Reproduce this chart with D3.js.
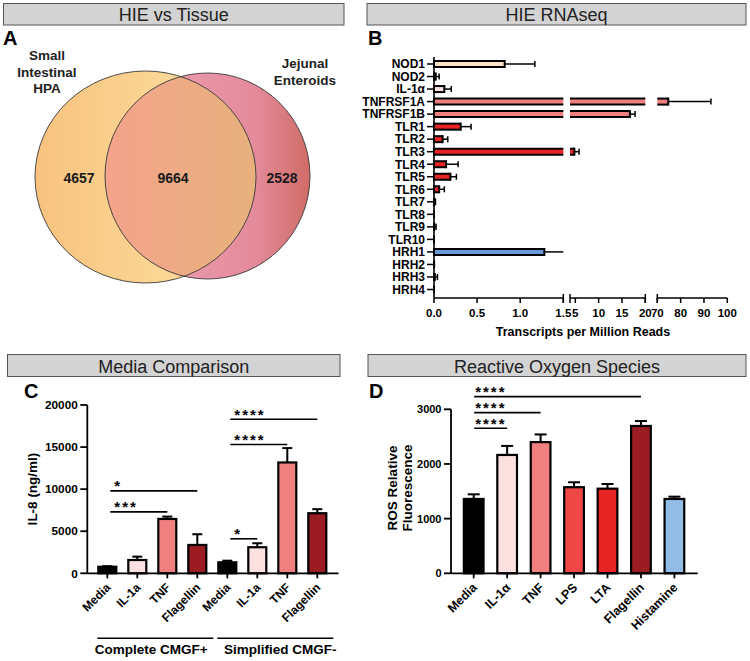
<!DOCTYPE html>
<html><head><meta charset="utf-8">
<script src="https://cdn.jsdelivr.net/npm/d3@7"></script>
<style>
body{margin:0;background:#fff}
svg{display:block}
text{font-family:"Liberation Sans",Arial,Helvetica,sans-serif}
</style>
</head><body>
<svg id="fig" width="750" height="661"></svg>
<script>
// ---------------- DATA ----------------
const panelTitles = ["HIE vs Tissue", "HIE RNAseq", "Media Comparison", "Reactive Oxygen Species"];
const panelLetters = ["A", "B", "C", "D"];

// A: Venn
const vennSetLeft = ["Small", "Intestinal", "HPA"];
const vennSetRight = ["Jejunal", "Enteroids"];
const vennCounts = [4657, 9664, 2528]; // left only, shared, right only

// B: RNAseq (TPM)
const rnaGenes = ["NOD1","NOD2","IL-1α","TNFRSF1A","TNFRSF1B","TLR1","TLR2","TLR3","TLR4","TLR5","TLR6","TLR7","TLR8","TLR9","TLR10","HRH1","HRH2","HRH3","HRH4"];
const rnaMeans = [0.82,0.02,0.12,74.7,16.7,0.31,0.10,4.8,0.14,0.19,0.06,0.005,0,0.004,0,1.28,0,0.01,0];
const rnaErrors = [0.35,0.04,0.08,18.3,1.1,0.12,0.06,1.0,0.14,0.07,0.06,0.012,0,0.02,0,0.3,0.005,0.03,0];
const rnaGroups = ["NOD","NOD","IL1","TNFR","TNFR","TLR","TLR","TLR","TLR","TLR","TLR","TLR","TLR","TLR","TLR","HRH","HRH","HRH","HRH"];
const rnaSegDomains = [[0, 1.5], [3.86, 20], [70, 100]];
const rnaSegTicks = [[0, 0.5, 1.0, 1.5], [5, 10, 15, 20], [70, 80, 90, 100]];
const rnaXTitle = "Transcripts per Million Reads";

// C: IL-8 media comparison
const cCategories = ["Media","IL-1a","TNF","Flagellin","Media","IL-1a","TNF","Flagellin"];
const cMeans = [780, 1580, 6460, 3370, 1310, 3100, 13170, 7140];
const cErrors = [60, 400, 280, 1270, 190, 470, 1710, 480];
const cTreat = ["media","il1","tnf","flag","media","il1","tnf","flag"];
const cYTicks = [0, 5000, 10000, 15000, 20000];
const cYTitle = "IL-8 (ng/ml)";
const cGroupNames = ["Complete CMGF+", "Simplified CMGF-"];
const cGroupSpans = [[0, 3], [4, 7]];
const cSigFrom = [0, 0, 4, 4, 4];
const cSigTo = [3, 2, 5, 6, 7];
const cSigLevel = [9800, 7300, 4100, 15300, 18300];
const cSigText = ["*", "***", "*", "****", "****"];

// D: ROS
const dCategories = ["Media","IL-1α","TNF","LPS","LTA","Flagellin","Histamine"];
const dMeans = [1360, 2165, 2400, 1575, 1548, 2695, 1360];
const dErrors = [85, 165, 140, 90, 86, 90, 42];
const dTreat = ["media","il1","tnf","lps","lta","flag","hist"];
const dYTicks = [0, 1000, 2000, 3000];
const dYTitle = ["ROS Relative", "Fluorescence"];
const dSigFrom = [0, 0, 0];
const dSigTo = [5, 2, 1];
const dSigLevel = [3232, 2939, 2652];
const dSigText = ["****", "****", "****"];

// ---------------- STYLES ----------------
const colors = {
  NOD: "#fde3c6", IL1: "#fde0e0", TNFR: "#f08080", TLR: "#e82424", HRH: "#6b9bd6",
  media: "#000000", il1: "#fde0e0", tnf: "#f08080", flag: "#9c1c23", lps: "#ef4646", lta: "#e82424", hist: "#92bce4"
};

const svg = d3.select("#fig");
const defs = svg.append("defs");

// ---------------- TITLE BOXES & LETTERS ----------------
const titleBoxes = [
  {x: 3.5, y: 3.5, w: 340.5, h: 21.5},
  {x: 367, y: 3.5, w: 379, h: 21.5},
  {x: 7.5, y: 354.5, w: 332.5, h: 22},
  {x: 368, y: 354.5, w: 378, h: 22}
];
titleBoxes.forEach((b, i) => {
  svg.append("rect").attr("x", b.x).attr("y", b.y).attr("width", b.w).attr("height", b.h)
    .attr("fill", "#d3d3d3").attr("stroke", "#555").attr("stroke-width", 1);
  svg.append("text").attr("x", b.x + b.w / 2).attr("y", b.y + b.h - 3.6)
    .attr("text-anchor", "middle").attr("font-size", 18).attr("fill", "#222").text(panelTitles[i]);
});
const letterPos = [[3, 45], [368, 45], [24, 398], [369, 398]];
letterPos.forEach((p, i) => {
  svg.append("text").attr("x", p[0]).attr("y", p[1]).attr("font-size", 20).attr("font-weight", "bold")
    .text(panelLetters[i]);
});

// ---------------- A: VENN ----------------
(function () {
  const L = {cx: 145.5, cy: 177, rx: 110.5, ry: 106};
  const R = {cx: 207.5, cy: 176, rx: 102.5, ry: 103};
  function grad(id, x1, x2, stops) {
    const g = defs.append("linearGradient").attr("id", id).attr("gradientUnits", "userSpaceOnUse")
      .attr("x1", x1).attr("x2", x2).attr("y1", 0).attr("y2", 0);
    stops.forEach(s => g.append("stop").attr("offset", s[0]).attr("stop-color", s[1]));
  }
  grad("gL", L.cx - L.rx, L.cx + L.rx, [[0, "#f8c27e"], [1, "#fee5a6"]]);
  grad("gR", R.cx - R.rx, R.cx + R.rx, [[0, "#f0a5b8"], [0.73, "#e48b9b"], [1, "#d06c66"]]);
  grad("gI", R.cx - R.rx, L.cx + L.rx, [[0, "#f3a38b"], [0.5, "#eeab84"], [1, "#e7b17c"]]);
  defs.append("clipPath").attr("id", "clipR").append("ellipse")
    .attr("cx", R.cx).attr("cy", R.cy).attr("rx", R.rx).attr("ry", R.ry);
  const g = svg.append("g");
  g.append("ellipse").attr("cx", L.cx).attr("cy", L.cy).attr("rx", L.rx).attr("ry", L.ry).attr("fill", "url(#gL)");
  g.append("ellipse").attr("cx", R.cx).attr("cy", R.cy).attr("rx", R.rx).attr("ry", R.ry).attr("fill", "url(#gR)");
  g.append("ellipse").attr("cx", L.cx).attr("cy", L.cy).attr("rx", L.rx).attr("ry", L.ry)
    .attr("fill", "url(#gI)").attr("clip-path", "url(#clipR)");
  [L, R].forEach(e => g.append("ellipse").attr("cx", e.cx).attr("cy", e.cy).attr("rx", e.rx).attr("ry", e.ry)
    .attr("fill", "none").attr("stroke", "#3a3a3a").attr("stroke-width", 0.9));
  const numX = [79, 173, 282];
  vennCounts.forEach((c, i) => g.append("text").attr("x", numX[i]).attr("y", 183.3).attr("text-anchor", "middle")
    .attr("font-size", 14).attr("font-weight", "bold").attr("fill", "#1a1a1a").text(c));
  vennSetLeft.forEach((t, i) => g.append("text").attr("x", 47).attr("y", 60 + i * 16.7).attr("text-anchor", "middle")
    .attr("font-size", 13.5).attr("font-weight", "bold").attr("fill", "#222").text(t));
  vennSetRight.forEach((t, i) => g.append("text").attr("x", 305).attr("y", 68.3 + i * 16.7).attr("text-anchor", "middle")
    .attr("font-size", 13.5).attr("font-weight", "bold").attr("fill", "#222").text(t));
})();

// ---------------- B: RNAseq broken axis ----------------
(function () {
  const g = svg.append("g");
  const segRanges = [[434, 563.3], [570, 645.3], [657.3, 727.3]];
  const segScales = rnaSegDomains.map((d, i) => d3.scaleLinear().domain(d).range(segRanges[i]));
  const y = d3.scalePoint().domain(rnaGenes).range([64, 289.5]);
  const axisY = 298;
  const x0 = segScales[0](0);
  function xOf(v) {
    for (let i = 0; i < segScales.length; i++) {
      const d = rnaSegDomains[i];
      if (v >= d[0] && v <= d[1]) return {x: segScales[i](v), inSeg: true};
    }
    let last = segScales[0];
    for (let i = 0; i < segScales.length; i++) if (rnaSegDomains[i][1] < v) last = segScales[i];
    return {x: last.range()[1], inSeg: false};
  }
  rnaGenes.forEach((gene, gi) => {
    const m = rnaMeans[gi], yc = y(gene), hh = 3;
    const col = colors[rnaGroups[gi]];
    rnaSegDomains.forEach((d, si) => {
      const lo = si === 0 ? 0 : d[0];
      if (m <= lo && !(si === 0)) return;
      const hi = Math.min(m, d[1]);
      if (hi < lo) return;
      const xa = segScales[si](lo), xb = segScales[si](hi);
      g.append("rect").attr("x", xa).attr("y", yc - hh).attr("width", Math.max(0, xb - xa)).attr("height", hh * 2)
        .attr("fill", col);
      if (xb - xa > 0.5) {
        [yc - hh, yc + hh].forEach(yy => g.append("line").attr("x1", xa).attr("x2", xb).attr("y1", yy).attr("y2", yy)
          .attr("stroke", "#000").attr("stroke-width", 2));
      }
      if (si === 0) g.append("line").attr("x1", xa).attr("x2", xa).attr("y1", yc - hh - 1).attr("y2", yc + hh + 1)
        .attr("stroke", "#000").attr("stroke-width", 2);
      if (hi === m && m > 0) g.append("line").attr("x1", xb).attr("x2", xb).attr("y1", yc - hh - 1).attr("y2", yc + hh + 1)
        .attr("stroke", "#000").attr("stroke-width", 2);
    });
    const e = rnaErrors[gi];
    if (e > 0) {
      const xs = xOf(m).x, xe = xOf(m + e);
      g.append("line").attr("x1", xs).attr("x2", xe.x).attr("y1", yc).attr("y2", yc)
        .attr("stroke", "#000").attr("stroke-width", 1.5);
      if (xe.inSeg) g.append("line").attr("x1", xe.x).attr("x2", xe.x).attr("y1", yc - 3).attr("y2", yc + 3)
        .attr("stroke", "#000").attr("stroke-width", 1.5);
    }
  });
  g.append("line").attr("x1", x0).attr("x2", x0).attr("y1", 57).attr("y2", axisY).attr("stroke", "#000").attr("stroke-width", 1.6);
  rnaGenes.forEach(gene => {
    g.append("line").attr("x1", x0 - 7).attr("x2", x0).attr("y1", y(gene)).attr("y2", y(gene)).attr("stroke", "#000").attr("stroke-width", 1.5);
    g.append("text").attr("x", x0 - 9).attr("y", y(gene)).attr("dy", "0.36em").attr("text-anchor", "end")
      .attr("font-size", 12).attr("font-weight", "bold").text(gene);
  });
  segScales.forEach((s, si) => {
    const r = s.range();
    g.append("line").attr("x1", r[0]).attr("x2", r[1]).attr("y1", axisY).attr("y2", axisY).attr("stroke", "#000").attr("stroke-width", 1.6);
    if (si > 0) g.append("line").attr("x1", r[0]).attr("x2", r[0]).attr("y1", axisY - 4).attr("y2", axisY + 5).attr("stroke", "#000").attr("stroke-width", 1.5);
    if (si < segScales.length - 1) g.append("line").attr("x1", r[1]).attr("x2", r[1]).attr("y1", axisY - 4).attr("y2", axisY + 5).attr("stroke", "#000").attr("stroke-width", 1.5);
    const fmt = si === 0 ? d3.format(".1f") : d3.format("d");
    rnaSegTicks[si].forEach(t => {
      g.append("line").attr("x1", s(t)).attr("x2", s(t)).attr("y1", axisY).attr("y2", axisY + 5).attr("stroke", "#000").attr("stroke-width", 1.5);
      g.append("text").attr("x", s(t)).attr("y", axisY + 19).attr("text-anchor", "middle")
        .attr("font-size", 11.5).attr("font-weight", "bold").text(fmt(t));
    });
  });
  g.append("text").attr("x", 583).attr("y", 336).attr("text-anchor", "middle").attr("font-size", 12.5)
    .attr("font-weight", "bold").text(rnaXTitle);
})();

// ---------------- shared bar chart ----------------
function barPanel(cfg) {
  const g = svg.append("g");
  const y = d3.scaleLinear().domain([0, cfg.yMax]).range([cfg.y0, cfg.yTop]);
  const x = d3.scalePoint().domain(d3.range(cfg.cats.length)).range(cfg.xRange);
  cfg.cats.forEach((c, i) => {
    const cx = x(i), top = y(cfg.means[i]), et = y(cfg.means[i] + cfg.errs[i]);
    g.append("line").attr("x1", cx).attr("x2", cx).attr("y1", top).attr("y2", et).attr("stroke", "#000").attr("stroke-width", 2);
    g.append("line").attr("x1", cx - cfg.cap / 2).attr("x2", cx + cfg.cap / 2).attr("y1", et).attr("y2", et).attr("stroke", "#000").attr("stroke-width", 2);
    g.append("rect").attr("x", cx - cfg.bw / 2).attr("y", top).attr("width", cfg.bw).attr("height", cfg.y0 - top)
      .attr("fill", colors[cfg.treat[i]]).attr("stroke", "#000").attr("stroke-width", 2.2);
  });
  g.append("line").attr("x1", cfg.axX).attr("x2", cfg.axX).attr("y1", cfg.yTop).attr("y2", cfg.y0).attr("stroke", "#000").attr("stroke-width", 1.8);
  g.append("line").attr("x1", cfg.axX).attr("x2", cfg.axXEnd).attr("y1", cfg.y0).attr("y2", cfg.y0).attr("stroke", "#000").attr("stroke-width", 1.8);
  cfg.yTicks.forEach(t => {
    g.append("line").attr("x1", cfg.axX - 7).attr("x2", cfg.axX).attr("y1", y(t)).attr("y2", y(t)).attr("stroke", "#000").attr("stroke-width", 1.8);
    g.append("text").attr("x", cfg.axX - 9.5).attr("y", y(t)).attr("dy", "0.36em").attr("text-anchor", "end")
      .attr("font-size", cfg.tickFont).attr("font-weight", "bold").text(t);
  });
  cfg.cats.forEach((c, i) => {
    g.append("line").attr("x1", x(i)).attr("x2", x(i)).attr("y1", cfg.y0).attr("y2", cfg.y0 + 5).attr("stroke", "#000").attr("stroke-width", 1.8);
    g.append("text").attr("transform", `translate(${x(i) + 4},${cfg.y0 + 15}) rotate(-45)`)
      .attr("text-anchor", "end").attr("font-size", cfg.labFont).attr("font-weight", "bold").text(c);
  });
  cfg.sigFrom.forEach((f, k) => {
    const yy = y(cfg.sigLevel[k]), xa = x(f) + cfg.sigDx, xb = x(cfg.sigTo[k]);
    g.append("line").attr("x1", xa).attr("x2", xb).attr("y1", yy).attr("y2", yy).attr("stroke", "#000").attr("stroke-width", 1.6);
    g.append("text").attr("x", xa + cfg.starDx).attr("y", yy + 0.5).attr("font-size", 15).attr("font-weight", "bold")
      .attr("letter-spacing", 2).text(cfg.sigText[k]);
  });
  return {g, x, y};
}

// ---------------- C ----------------
(function () {
  const p = barPanel({
    cats: cCategories, means: cMeans, errs: cErrors, treat: cTreat, yMax: 20000, yTicks: cYTicks,
    y0: 573.3, yTop: 405, xRange: [107.3, 317.3], axX: 87.3, axXEnd: 338.5, bw: 18, cap: 10,
    tickFont: 11.8, labFont: 12, sigFrom: cSigFrom, sigTo: cSigTo, sigLevel: cSigLevel, sigText: cSigText,
    sigDx: 3, starDx: 4
  });
  p.g.append("text").attr("transform", "translate(37,489) rotate(-90)").attr("text-anchor", "middle")
    .attr("font-size", 13.5).attr("font-weight", "bold").text(cYTitle);
  cGroupSpans.forEach((s, i) => {
    const xa = p.x(s[0]) - 10, xb = p.x(s[1]) + 16;
    p.g.append("line").attr("x1", xa).attr("x2", xb).attr("y1", 638.3).attr("y2", 638.3).attr("stroke", "#000").attr("stroke-width", 1.5);
    p.g.append("text").attr("x", (xa + xb) / 2 + (i === 0 ? -4 : 5)).attr("y", 653.5).attr("text-anchor", "middle")
      .attr("font-size", 13.5).attr("font-weight", "bold").text(cGroupNames[i]);
  });
})();

// ---------------- D ----------------
(function () {
  const p = barPanel({
    cats: dCategories, means: dMeans, errs: dErrors, treat: dTreat, yMax: 3000, yTicks: dYTicks,
    y0: 573.3, yTop: 409.3, xRange: [473.7, 674.4], axX: 451, axXEnd: 697.7, bw: 19.7, cap: 12,
    tickFont: 11, labFont: 12.5, sigFrom: dSigFrom, sigTo: dSigTo, sigLevel: dSigLevel, sigText: dSigText,
    sigDx: 0.5, starDx: 1
  });
  dYTitle.forEach((t, i) => p.g.append("text").attr("transform", `translate(${397 + i * 14.5},488) rotate(-90)`)
    .attr("text-anchor", "middle").attr("font-size", 13.5).attr("font-weight", "bold").text(t));
})();
</script>
</body></html>
